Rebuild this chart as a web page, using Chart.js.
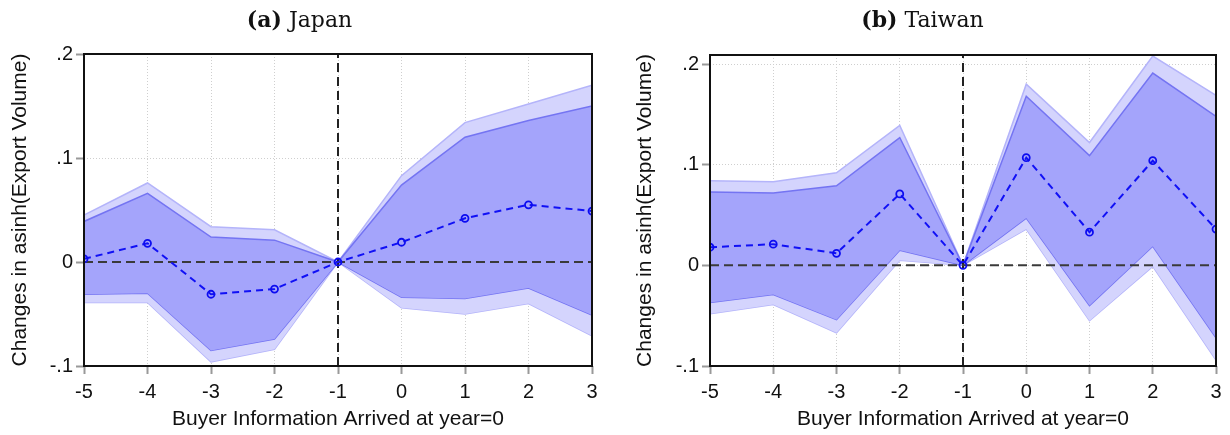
<!DOCTYPE html>
<html lang="en">
<head>
    <meta charset="UTF-8">
    <title>Event study: Japan and Taiwan</title>
    <style>
        body { margin: 0; background: #fff; }
        .wrap { position: relative; width: 1230px; height: 435px; }
        .panel { position: absolute; top: 0; width: 615px; height: 435px; }
        .panel h3 {
            position: absolute; top: 6px; left: 0; width: 615px; margin: 0;
            text-align: center; font: 22px/26px "DejaVu Serif", serif; font-weight: normal; color: #111;
        }
        .panel h3 b { font-weight: bold; }
        canvas { position: absolute; top: 0; left: 0; }
    </style>
</head>
<body>
<div class="wrap">
    <div class="panel" style="left:0">
        <canvas id="japan" width="615" height="435"></canvas>
        <h3 style="left:-8px"><b>(a)</b> Japan</h3>
    </div>
    <div class="panel" style="left:615px">
        <canvas id="taiwan" width="615" height="435"></canvas>
        <h3 style="left:0px"><b>(b)</b> Taiwan</h3>
    </div>
</div>

<script src="https://cdn.jsdelivr.net/npm/chart.js"></script>
<script>
    const years = [-5, -4, -3, -2, -1, 0, 1, 2, 3];
    const xTicks = [-5, -4, -3, -2, -1, 0, 1, 2, 3];
    const yTicks = [-0.1, 0, 0.1, 0.2];

    // Japan
    const jpEst     = [0.003, 0.018, -0.031, -0.026, 0, 0.019, 0.042, 0.055, 0.049];
    const jpInnerHi = [0.039, 0.066, 0.024, 0.021, 0, 0.074, 0.120, 0.136, 0.150];
    const jpInnerLo = [-0.031, -0.030, -0.085, -0.074, 0, -0.034, -0.035, -0.025, -0.051];
    const jpOuterHi = [0.045, 0.076, 0.034, 0.031, 0, 0.083, 0.134, 0.152, 0.170];
    const jpOuterLo = [-0.039, -0.039, -0.096, -0.084, 0, -0.044, -0.050, -0.040, -0.071];

    // Taiwan
    const twEst     = [0.018, 0.021, 0.012, 0.071, 0, 0.107, 0.033, 0.104, 0.036];
    const twInnerHi = [0.073, 0.072, 0.079, 0.127, 0, 0.168, 0.109, 0.191, 0.148];
    const twInnerLo = [-0.037, -0.029, -0.054, 0.015, 0, 0.047, -0.040, 0.019, -0.072];
    const twOuterHi = [0.084, 0.083, 0.092, 0.139, 0, 0.180, 0.122, 0.208, 0.169];
    const twOuterLo = [-0.048, -0.039, -0.067, 0.005, 0, 0.036, -0.055, -0.001, -0.094];

    const xMin = -5, xMax = 3, eventYear = -1;

    const pts = arr => years.map((x, i) => ({x: x, y: arr[i]}));

    const frame = {
        id: 'frame',
        afterDraw(chart) {
            const a = chart.chartArea, ctx = chart.ctx;
            ctx.save();
            ctx.strokeStyle = '#111';
            ctx.lineWidth = 2;
            ctx.strokeRect(a.left, a.top, a.right - a.left, a.bottom - a.top);
            ctx.restore();
        }
    };

    function yLabel(v) {
        if (Math.abs(v) < 1e-9) return '0';
        return (v < 0 ? '-' : '') + String(Math.abs(v).toFixed(1)).replace(/^0/, '');
    }

    function makeChart(id, est, inHi, inLo, outHi, outLo, yMin, yMax, box) {
        const bandLine = {pointRadius: 0, tension: 0};
        new Chart(document.getElementById(id), {
            type: 'line',
            data: {
                datasets: [
                    Object.assign({data: pts(outHi), fill: '+1', backgroundColor: '#d4d4fd',
                        borderColor: '#b4b4fa', borderWidth: 1.5, order: 4}, bandLine),
                    Object.assign({data: pts(outLo), fill: false,
                        borderColor: '#b4b4fa', borderWidth: 1.5, order: 4}, bandLine),
                    Object.assign({data: pts(inHi), fill: '+1', backgroundColor: '#a4a4fb',
                        borderColor: '#7474f2', borderWidth: 1.5, order: 3}, bandLine),
                    Object.assign({data: pts(inLo), fill: false,
                        borderColor: '#7474f2', borderWidth: 1.5, order: 3}, bandLine),
                    {data: [{x: xMin, y: 0}, {x: xMax, y: 0}], borderColor: '#3a3a3a', borderWidth: 2,
                        borderDash: [9, 5], pointRadius: 0, fill: false, order: 2},
                    {data: [{x: eventYear, y: yMin}, {x: eventYear, y: yMax}], borderColor: '#222',
                        borderWidth: 2, borderDash: [9, 5], pointRadius: 0, fill: false, order: 2},
                    {data: pts(est), borderColor: '#1010f5', borderWidth: 2, borderDash: [7, 5],
                        pointRadius: 3.5, pointBorderWidth: 1.8, pointBorderColor: '#0c0cf0',
                        pointBackgroundColor: 'rgba(0,0,0,0)', fill: false, tension: 0, order: 1}
                ]
            },
            options: {
                responsive: false,
                animation: false,
                layout: {padding: {top: box.top, right: box.right, left: 0, bottom: 0}},
                plugins: {legend: {display: false}, tooltip: {enabled: false}},
                scales: {
                    x: {
                        type: 'linear', min: xMin, max: xMax,
                        afterBuildTicks: s => { s.ticks = xTicks.map(v => ({value: v})); },
                        afterFit: s => { s.height = 69; },
                        grid: {color: '#cfcfcf', lineWidth: 1, tickLength: 8, tickColor: '#999', tickWidth: 2},
                        border: {display: false, dash: [1, 2]},
                        ticks: {font: {family: 'Liberation Sans', size: 20}, color: '#111', padding: 6,
                            maxRotation: 0, callback: v => String(v)},
                        title: {display: true, text: 'Buyer Information Arrived at year=0',
                            font: {family: 'Liberation Sans', size: 21}, color: '#111',
                            padding: {top: 0, bottom: 3}}
                    },
                    y: {
                        type: 'linear', min: yMin, max: yMax,
                        afterBuildTicks: s => { s.ticks = yTicks.map(v => ({value: v})); },
                        afterFit: s => { s.width = box.left; },
                        grid: {color: '#cfcfcf', lineWidth: 1, tickLength: 8, tickColor: '#999', tickWidth: 2},
                        border: {display: false, dash: [1, 2]},
                        ticks: {font: {family: 'Liberation Sans', size: 20}, color: '#111', padding: 3,
                            callback: v => yLabel(v)},
                        title: {display: true, text: 'Changes in asinh(Export Volume)',
                            font: {family: 'Liberation Sans', size: 21}, color: '#111',
                            padding: {top: box.titlePad, bottom: 0}}
                    }
                }
            },
            plugins: [frame]
        });
    }

    makeChart('japan', jpEst, jpInnerHi, jpInnerLo, jpOuterHi, jpOuterLo, -0.1, 0.2,
        {left: 84, right: 23, top: 54, titlePad: 8});
    makeChart('taiwan', twEst, twInnerHi, twInnerLo, twOuterHi, twOuterLo, -0.1, 0.209,
        {left: 95, right: 14, top: 55, titlePad: 18});
</script>
</body>
</html>
